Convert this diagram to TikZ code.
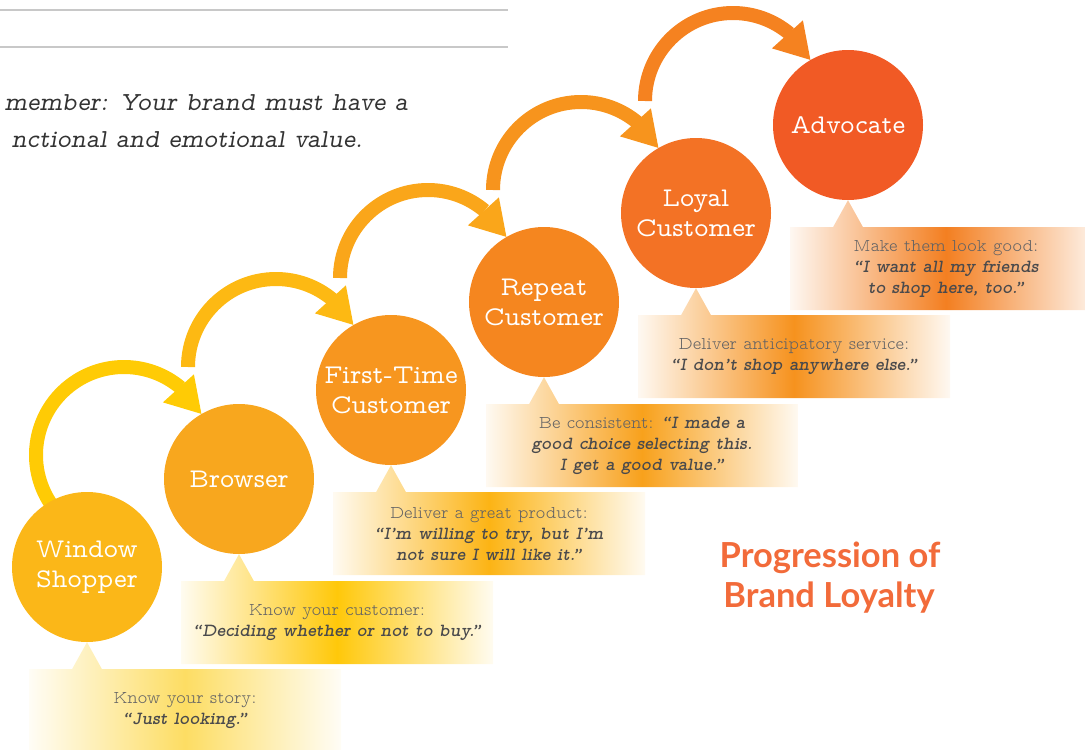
\documentclass[tikz,border=0pt]{standalone}
\usepackage{fontspec}
\usetikzlibrary{calc}
\newfontfamily\titlefont{Lato}
\newcommand\slabfont{\fontfamily{lmvtt}\selectfont}

\definecolor{rulegray}{HTML}{C8C8C8}
\definecolor{leadgray}{HTML}{333333}
\definecolor{notegray}{HTML}{626264}
\definecolor{quotegray}{HTML}{4A4A4C}
\definecolor{titleorange}{HTML}{F26B3A}
% circle fills
\definecolor{stA}{HTML}{FBB718}
\definecolor{stB}{HTML}{F8A71E}
\definecolor{stC}{HTML}{F7961F}
\definecolor{stD}{HTML}{F5861F}
\definecolor{stE}{HTML}{F37225}
\definecolor{stF}{HTML}{F15A25}
% arrow colours
\definecolor{arA}{HTML}{FFCB05}
\definecolor{arB}{HTML}{FDB913}
\definecolor{arC}{HTML}{FAA61A}
\definecolor{arD}{HTML}{F7941D}
\definecolor{arE}{HTML}{F58220}
% callout colours
\definecolor{coA}{HTML}{FDDD63}
\definecolor{coB}{HTML}{FFC80A}
\definecolor{coC}{HTML}{FCB415}
\definecolor{coD}{HTML}{F8A11C}
\definecolor{coE}{HTML}{F6921E}
\definecolor{coF}{HTML}{F37F21}

\newcommand\quoted[1]{{\fontsize{18.5}{21}\bfseries\itshape\color{quotegray}#1}}

% shaded callout box with a pointer under a stage circle
\newcommand\callout[3]{%
  \shade[left color=#2!6!white, right color=#2!6!white, middle color=#2]
    ($(#1.south)+(-58,-27)$) rectangle ++(312,-83)
    ($(#1.south)+(-15,-27)$) -- (#1.south) -- ($(#1.south)+(15,-27)$) -- cycle;
  \node[note] (#1-note) at ($(#1.south)+(98,-68.5)$) {#3};
}

% curved arrow from above one stage to the next
\newcommand\stagearrow[4]{%
  \draw[ring, #3] ($(#1.center)+(37,112)+(#4:88)$) arc[start angle=#4, end angle=50, radius=88pt];
  \fill[#3] (#2.120) -- ++(-7.5,39.5) -- ++(-31,-28) -- cycle;
}

\tikzset{
  stage/.style={circle, inner sep=0pt, minimum size=150pt, text=white, align=center,
    font=\slabfont\fontsize{27}{30}\selectfont},
  note/.style={align=center, text=notegray,
    font=\slabfont\fontseries{l}\selectfont\fontsize{18}{21}\selectfont},
  ring/.style={line width=14pt},
  lead/.style={anchor=base east, text=leadgray, inner sep=0pt,
    font=\slabfont\itshape\fontsize{26}{30}\selectfont},
  heading/.style={anchor=base, text=titleorange, inner sep=0pt,
    font=\titlefont\bfseries\fontsize{34.5}{40}\selectfont},
}

\begin{document}
\begin{tikzpicture}[x=1pt,y=1pt]
\useasboundingbox (0,-750) rectangle (1085,0);
\clip (0,-750) rectangle (1085,0);

% page rules and lead-in sentence
\draw[rulegray, line width=1.3pt] (0,-10) -- (508,-10);
\draw[rulegray, line width=1.3pt] (0,-47) -- (508,-47);
\node[lead] (lead1) at (408,-110) {member: Your brand must have a};
\node[lead] (lead2) at (363,-147) {nctional and emotional value.};

% stage circles (placed first so arrows can refer to them)
\path
  (87,-567)  node[stage] (ws) {}
  (239,-479) node[stage] (br) {}
  (391,-390) node[stage] (ft) {}
  (544,-302) node[stage] (rc) {}
  (696,-213) node[stage] (lc) {}
  (848,-125) node[stage] (ad) {};

% arrows between stages
\stagearrow{ws}{br}{arA}{215}
\stagearrow{br}{ft}{arB}{180}
\stagearrow{ft}{rc}{arC}{180}
\stagearrow{rc}{lc}{arD}{180}
\stagearrow{lc}{ad}{arE}{180}

% circle fills and labels
\node[stage, fill=stA] at (ws) {Window\\Shopper};
\node[stage, fill=stB] at (br) {Browser};
\node[stage, fill=stC] at (ft) {First-Time\\Customer};
\node[stage, fill=stD] at (rc) {Repeat\\Customer};
\node[stage, fill=stE] at (lc) {Loyal\\Customer};
\node[stage, fill=stF] at (ad) {Advocate};

% callouts
\callout{ws}{coA}{Know your story:\\\quoted{“Just looking.”}}
\callout{br}{coB}{Know your customer:\\\quoted{“Deciding whether or not to buy.”}}
\callout{ft}{coC}{Deliver a great product:\\\quoted{“I’m willing to try, but I’m}\\\quoted{not sure I will like it.”}}
\callout{rc}{coD}{Be consistent: \quoted{“I made a}\\\quoted{good choice selecting this.}\\\quoted{I get a good value.”}}
\callout{lc}{coE}{Deliver anticipatory service:\\\quoted{“I don’t shop anywhere else.”}}
\callout{ad}{coF}{Make them look good:\\\quoted{“I want all my friends}\\\quoted{to shop here, too.”}}

% heading
\node[heading] (title1) at (830,-567) {Progression of};
\node[heading] (title2) at (829,-607) {Brand Loyalty};
\end{tikzpicture}
\end{document}
